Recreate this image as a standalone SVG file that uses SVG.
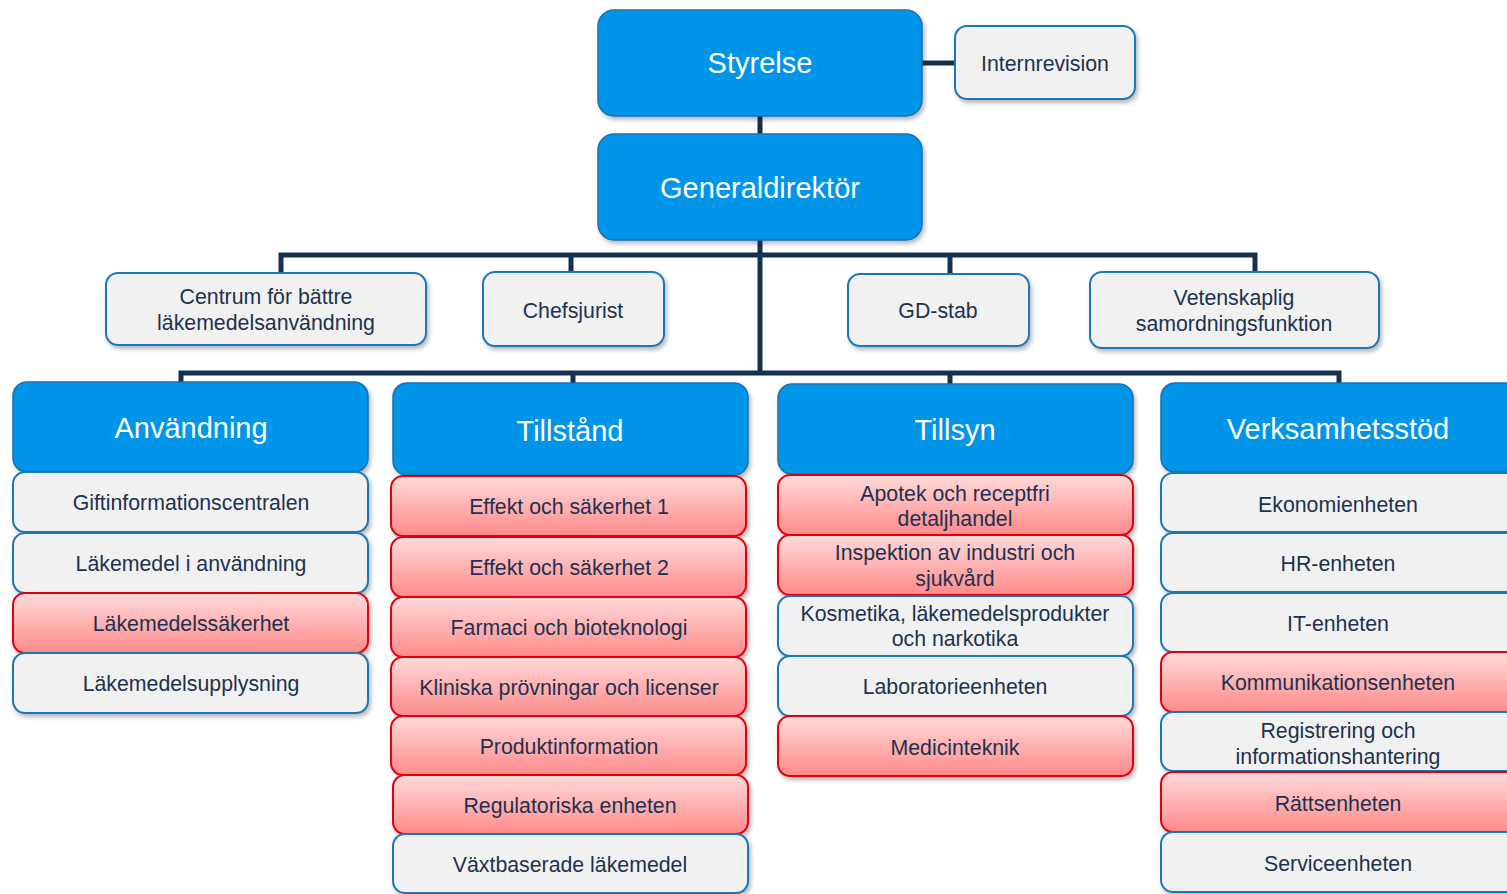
<svg xmlns="http://www.w3.org/2000/svg" width="1507" height="894" viewBox="0 0 1507 894">
<defs>
<linearGradient id="red" x1="0" y1="0" x2="0" y2="1">
<stop offset="0" stop-color="#FFDADA"/>
<stop offset="1" stop-color="#FF8A8A"/>
</linearGradient>
<filter id="sh" x="-10%" y="-10%" width="120%" height="130%">
<feDropShadow dx="2" dy="3" stdDeviation="2" flood-color="#000" flood-opacity="0.28"/>
</filter>
</defs>
<style>
.blue{fill:#0095E9;stroke:#1A6FAE;stroke-width:1.5;filter:url(#sh)}
.gray{fill:#F1F1F1;stroke:#1F77B9;stroke-width:2;filter:url(#sh)}
.red{fill:url(#red);stroke:#E3000F;stroke-width:2;filter:url(#sh)}
.ht{font-family:"Liberation Sans",Arial,sans-serif;font-size:29px;fill:#FFFFFF;text-anchor:middle}
.t{font-family:"Liberation Sans",Arial,sans-serif;font-size:21.3px;fill:#1D3250;text-anchor:middle}
.c{fill:none;stroke:#16314F;stroke-width:5}
</style>
<rect width="1507" height="894" fill="#FFFFFF"/>
<g id="connectors">
<path class="c" d="M922 63H955"/>
<path class="c" d="M760 116V134"/>
<path class="c" d="M760 240V373"/>
<path class="c" d="M281 273V255H1255V272"/>
<path class="c" d="M571 255V272"/>
<path class="c" d="M950 255V274"/>
<path class="c" d="M181 382V373H1339V384"/>
<path class="c" d="M573 373V384"/>
<path class="c" d="M950 373V384"/>
</g>
<g id="styrelse"><rect class="blue" x="598" y="10" width="324" height="106" rx="16"/><text class="ht" x="760" y="73">Styrelse</text></g>
<g id="internrevision"><rect class="gray" x="955" y="26" width="180" height="73" rx="12"/><text class="t" x="1045" y="71">Internrevision</text></g>
<g id="generaldirektor"><rect class="blue" x="598" y="134" width="324" height="106" rx="16"/><text class="ht" x="760" y="198">Generaldirektör</text></g>
<g id="centrum"><rect class="gray" x="106" y="273" width="320" height="72" rx="12"/><text class="t" x="266" y="304">Centrum för bättre</text><text class="t" x="266" y="330">läkemedelsanvändning</text></g>
<g id="chefsjurist"><rect class="gray" x="483" y="272" width="181" height="74" rx="12"/><text class="t" x="573" y="318">Chefsjurist</text></g>
<g id="gdstab"><rect class="gray" x="848" y="274" width="181" height="72" rx="12"/><text class="t" x="938" y="318">GD-stab</text></g>
<g id="vetenskaplig"><rect class="gray" x="1090" y="272" width="289" height="76" rx="12"/><text class="t" x="1234" y="305">Vetenskaplig</text><text class="t" x="1234" y="331">samordningsfunktion</text></g>

<g id="anvandning"><rect class="blue" x="13" y="382" width="355" height="90" rx="14"/><text class="ht" x="191" y="438">Användning</text></g>
<g id="giftinfo"><rect class="gray" x="13" y="472" width="355" height="60" rx="12"/><text class="t" x="191" y="510">Giftinformationscentralen</text></g>
<g id="lakemedel-anv"><rect class="gray" x="13" y="533" width="355" height="60" rx="12"/><text class="t" x="191" y="571">Läkemedel i användning</text></g>
<g id="lakemedelssakerhet"><rect class="red" x="13" y="593" width="355" height="60" rx="12"/><text class="t" x="191" y="631">Läkemedelssäkerhet</text></g>
<g id="lakemedelsupplysning"><rect class="gray" x="13" y="653" width="355" height="60" rx="12"/><text class="t" x="191" y="691">Läkemedelsupplysning</text></g>

<g id="tillstand"><rect class="blue" x="393" y="383" width="355" height="92" rx="14"/><text class="ht" x="570" y="441">Tillstånd</text></g>
<g id="effekt1"><rect class="red" x="391" y="476" width="355" height="60" rx="12"/><text class="t" x="569" y="514">Effekt och säkerhet 1</text></g>
<g id="effekt2"><rect class="red" x="391" y="537" width="355" height="60" rx="12"/><text class="t" x="569" y="575">Effekt och säkerhet 2</text></g>
<g id="farmaci"><rect class="red" x="391" y="597" width="355" height="60" rx="12"/><text class="t" x="569" y="635">Farmaci och bioteknologi</text></g>
<g id="kliniska"><rect class="red" x="391" y="657" width="355" height="59" rx="12"/><text class="t" x="569" y="695">Kliniska prövningar och licenser</text></g>
<g id="produktinfo"><rect class="red" x="391" y="716" width="355" height="59" rx="12"/><text class="t" x="569" y="754">Produktinformation</text></g>
<g id="regulatoriska"><rect class="red" x="393" y="775" width="355" height="59" rx="12"/><text class="t" x="570" y="813">Regulatoriska enheten</text></g>
<g id="vaxtbaserade"><rect class="gray" x="393" y="834" width="355" height="59" rx="12"/><text class="t" x="570" y="872">Växtbaserade läkemedel</text></g>

<g id="tillsyn"><rect class="blue" x="778" y="384" width="355" height="90" rx="14"/><text class="ht" x="955" y="440">Tillsyn</text></g>
<g id="apotek"><rect class="red" x="778" y="475" width="355" height="60" rx="12"/><text class="t" x="955" y="501">Apotek och receptfri</text><text class="t" x="955" y="526">detaljhandel</text></g>
<g id="inspektion"><rect class="red" x="778" y="535" width="355" height="60" rx="12"/><text class="t" x="955" y="560">Inspektion av industri och</text><text class="t" x="955" y="586">sjukvård</text></g>
<g id="kosmetika"><rect class="gray" x="778" y="596" width="355" height="60" rx="12"/><text class="t" x="955" y="621">Kosmetika, läkemedelsprodukter</text><text class="t" x="955" y="646">och narkotika</text></g>
<g id="laboratorie"><rect class="gray" x="778" y="656" width="355" height="60" rx="12"/><text class="t" x="955" y="694">Laboratorieenheten</text></g>
<g id="medicinteknik"><rect class="red" x="778" y="716" width="355" height="60" rx="12"/><text class="t" x="955" y="755">Medicinteknik</text></g>

<g id="verksamhetsstod"><rect class="blue" x="1161" y="383" width="360" height="89" rx="14"/><text class="ht" x="1338" y="439">Verksamhetsstöd</text></g>
<g id="ekonomi"><rect class="gray" x="1161" y="473" width="360" height="59" rx="12"/><text class="t" x="1338" y="512">Ekonomienheten</text></g>
<g id="hr"><rect class="gray" x="1161" y="533" width="360" height="59" rx="12"/><text class="t" x="1338" y="571">HR-enheten</text></g>
<g id="it"><rect class="gray" x="1161" y="593" width="360" height="59" rx="12"/><text class="t" x="1338" y="631">IT-enheten</text></g>
<g id="kommunikation"><rect class="red" x="1161" y="652" width="360" height="60" rx="12"/><text class="t" x="1338" y="690">Kommunikationsenheten</text></g>
<g id="registrering"><rect class="gray" x="1161" y="712" width="360" height="59" rx="12"/><text class="t" x="1338" y="738">Registrering och</text><text class="t" x="1338" y="764">informationshantering</text></g>
<g id="ratts"><rect class="red" x="1161" y="772" width="360" height="60" rx="12"/><text class="t" x="1338" y="811">Rättsenheten</text></g>
<g id="service"><rect class="gray" x="1161" y="832" width="360" height="60" rx="12"/><text class="t" x="1338" y="871">Serviceenheten</text></g>
</svg>
